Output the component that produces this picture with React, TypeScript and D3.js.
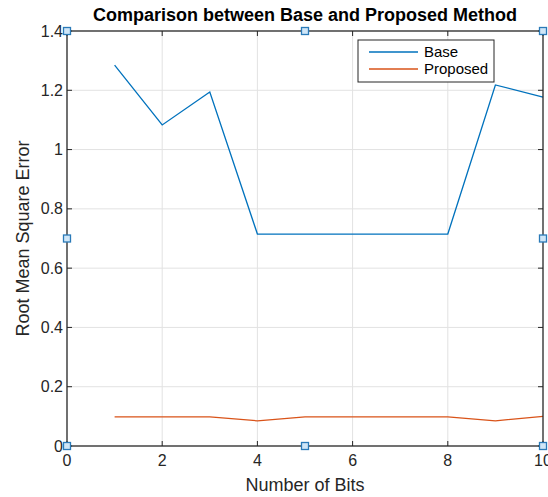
import React from 'react';
import * as d3 from 'd3';

const bits = [1, 2, 3, 4, 5, 6, 7, 8, 9, 10];
const baseRmse = [1.285, 1.083, 1.194, 0.715, 0.715, 0.715, 0.715, 0.715, 1.218, 1.177];
const proposedRmse = [0.098, 0.098, 0.098, 0.085, 0.098, 0.098, 0.098, 0.098, 0.085, 0.1];
const xTicks = [0, 2, 4, 6, 8, 10];
const yTicks = [0, 0.2, 0.4, 0.6, 0.8, 1, 1.2, 1.4];
const seriesNames = ['Base', 'Proposed'];
const seriesColors = ['#0072BD', '#D95319'];

const App = () => {
  const w = 548, h = 497;
  const m = {left: 67, right: 5, top: 31, bottom: 51};

  const x = d3.scaleLinear().domain([0, 10]).range([m.left, w - m.right]);
  const y = d3.scaleLinear().domain([0, 1.4]).range([h - m.bottom, m.top]);

  const line = d3.line<number>()
    .x((d, i) => x(bits[i]))
    .y(d => y(d));

  const ink = '#262626';
  const font = 'Arial, "Liberation Sans", Helvetica, sans-serif';
  const [x0, x1] = x.range();
  const [y0, y1] = y.range();

  // selection handles, like a selected MATLAB axes
  const handles: [number, number][] = [
    [0, 0], [5, 0], [10, 0], [0, 0.7], [10, 0.7], [0, 1.4], [5, 1.4], [10, 1.4]
  ];

  const lg = {x: 358, y: 40, w: 136, h: 42};

  return (
    <svg width={w} height={h} style={{position: 'absolute', left: 0, top: 0, background: '#fff'}}
      fontFamily={font}>
      {/* grid */}
      {xTicks.slice(1, -1).map(t => (
        <line key={'gx' + t} x1={x(t)} x2={x(t)} y1={y1} y2={y0} stroke="#e2e2e2" strokeWidth={1} />
      ))}
      {yTicks.slice(1, -1).map(t => (
        <line key={'gy' + t} x1={x0} x2={x1} y1={y(t)} y2={y(t)} stroke="#e2e2e2" strokeWidth={1} />
      ))}

      {/* data */}
      <path d={line(baseRmse) || ''} fill="none" stroke={seriesColors[0]} strokeWidth={1.3} />
      <path d={line(proposedRmse) || ''} fill="none" stroke={seriesColors[1]} strokeWidth={1.3} />

      {/* box + ticks */}
      <rect x={x0} y={y1} width={x1 - x0} height={y0 - y1} fill="none" stroke={ink} strokeWidth={1.3} />
      {xTicks.map(t => (
        <g key={'tx' + t}>
          <line x1={x(t)} x2={x(t)} y1={y0} y2={y0 - 5} stroke={ink} />
          <line x1={x(t)} x2={x(t)} y1={y1} y2={y1 + 5} stroke={ink} />
          <text x={x(t)} y={y0 + 20} textAnchor="middle" fontSize={16} fill={ink}>{t}</text>
        </g>
      ))}
      {yTicks.map(t => (
        <g key={'ty' + t}>
          <line x1={x0} x2={x0 + 5} y1={y(t)} y2={y(t)} stroke={ink} />
          <line x1={x1} x2={x1 - 5} y1={y(t)} y2={y(t)} stroke={ink} />
          <text x={x0 - 4} y={y(t) + 5.5} textAnchor="end" fontSize={16} fill={ink}>{d3.format('~g')(t)}</text>
        </g>
      ))}

      {handles.map(([hx, hy], i) => (
        <rect key={'h' + i} x={x(hx) - 3.5} y={y(hy) - 3.5} width={7} height={7}
          fill="#cfe6f7" stroke="#2a7ab8" strokeWidth={1.3} />
      ))}

      {/* legend */}
      <rect x={lg.x} y={lg.y} width={lg.w} height={lg.h} fill="#fff" stroke={ink} strokeWidth={1} />
      {seriesNames.map((s, i) => (
        <g key={s}>
          <line x1={lg.x + 11} x2={lg.x + 60} y1={lg.y + 12 + i * 17} y2={lg.y + 12 + i * 17}
            stroke={seriesColors[i]} strokeWidth={1.3} />
          <text x={lg.x + 66} y={lg.y + 17 + i * 17} fontSize={15} fill="#000">{s}</text>
        </g>
      ))}

      {/* labels */}
      <text x={(x0 + x1) / 2} y={21} textAnchor="middle" fontSize={18} fontWeight="bold" fill="#000">
        Comparison between Base and Proposed Method
      </text>
      <text x={(x0 + x1) / 2} y={491} textAnchor="middle" fontSize={18} fill={ink}>Number of Bits</text>
      <text transform={`translate(29, ${(y0 + y1) / 2}) rotate(-90)`} textAnchor="middle" fontSize={18} fill={ink}>
        Root Mean Square Error
      </text>
    </svg>
  );
};

export default App;
